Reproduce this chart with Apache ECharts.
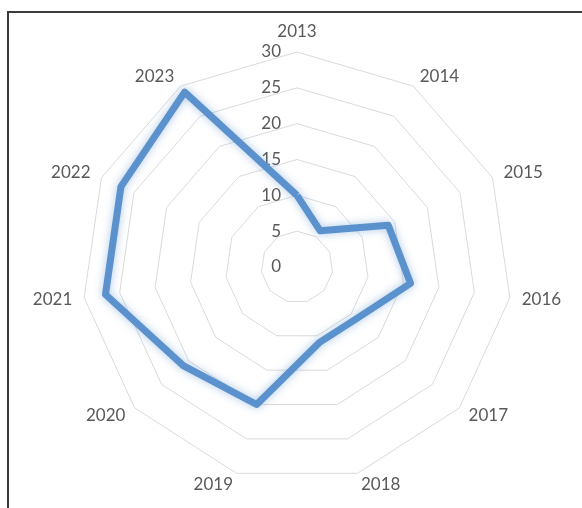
<!DOCTYPE html>
<html>
<head>
<meta charset="utf-8">
<script src="https://cdn.jsdelivr.net/npm/echarts@6/dist/echarts.min.js"></script>
<style>
	html,body{margin:0;padding:0;background:#fff;}
	#chart{position:absolute;left:0;top:0;width:582px;height:508px;}
	/* 外框，只有上边和左边 */
	#frame{position:absolute;left:7px;top:11px;width:580px;height:500px;border-top:2px solid #3a3a3a;border-left:2px solid #3a3a3a;}
</style>
</head>
<body>
<div id="frame"></div>
<div id="chart"></div>
<script>
// 年份
var years=['2013','2014','2015','2016','2017','2018','2019','2020','2021','2022','2023'];
// 每年的数值
var values=[10,6,14,16,11,11,20,21,27,27,29];
// 刻度
var ticks=[0,5,10,15,20,25,30];

var axisMax=ticks[ticks.length-1];

// echarts雷达图默认逆时针排列，这里调换顺序让年份顺时针排列
var order=[0];
for(var i=years.length-1;i>0;i--){
	order.push(i);
}

var indicators=[];
var seriesValues=[];
for(var k=0;k<order.length;k++){
	var ind={name:years[order[k]], min:ticks[0], max:axisMax};
	if(k==0){
		// 只在最上面那根轴显示刻度
		ind.axisLabel={show:true};
	}
	indicators.push(ind);
	seriesValues.push(values[order[k]]);
}

var myChart=echarts.init(document.getElementById('chart'));

var option={
	animation:false,
	radar:{
		center:[297,267],
		radius:[0,215],
		startAngle:90,
		shape:'polygon',
		splitNumber:ticks.length-1,
		indicator:indicators,
		nameGap:12,
		axisName:{
			color:'#595959',
			fontSize:17,
			fontFamily:'Lato'
		},
		axisLine:{show:false},
		axisTick:{show:false},
		axisLabel:{
			show:false,
			color:'#595959',
			fontSize:17,
			fontFamily:'Lato',
			margin:16
		},
		splitLine:{
			lineStyle:{color:'#dadada',width:1}
		},
		splitArea:{show:false}
	},
	series:[{
		type:'radar',
		symbol:'none',
		lineStyle:{
			color:'#5b92cd',
			width:7,
			shadowBlur:8,
			shadowColor:'rgba(91,146,205,0.5)'
		},
		data:[{value:seriesValues, name:'数值'}]
	}]
};
myChart.setOption(option);
</script>
</body>
</html>
